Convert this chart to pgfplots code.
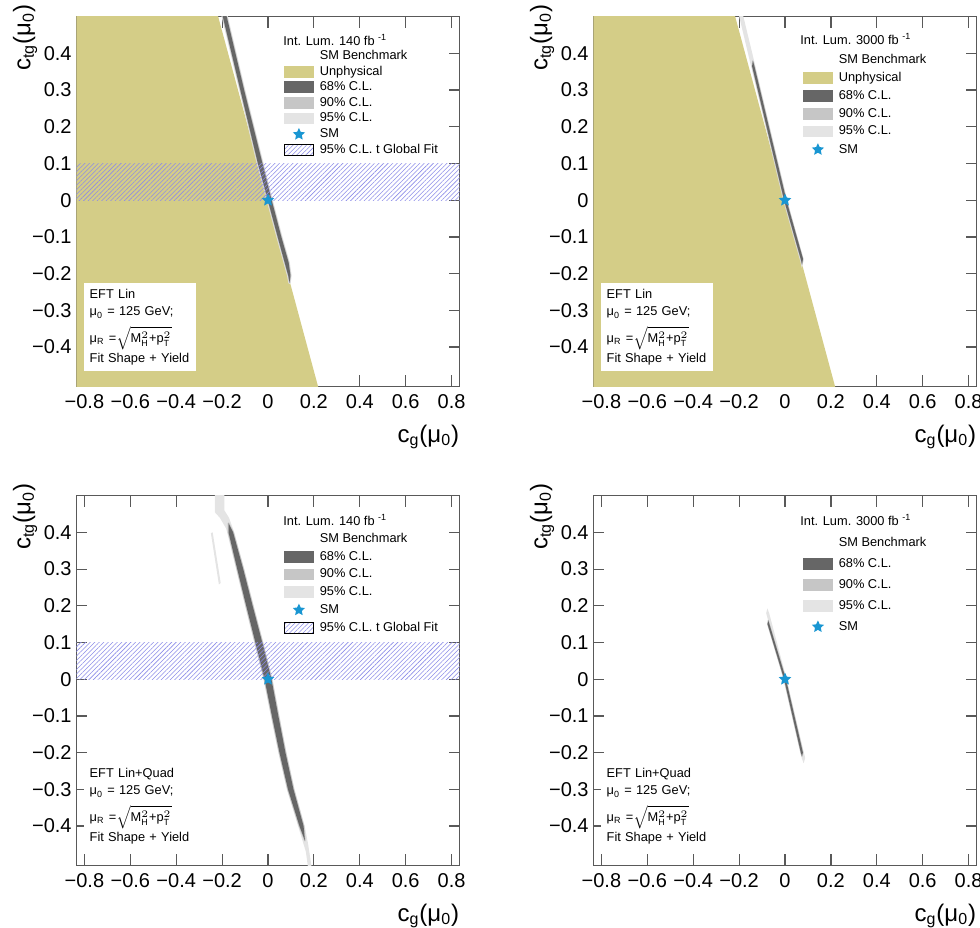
\documentclass[border=0pt]{standalone}
\usepackage{fontspec}
\setmainfont{Liberation Sans}
\usepackage{amsmath}
\usepackage{pgfplots}
\pgfplotsset{compat=1.18}
\usepackage{pgfplotstable}
\usetikzlibrary{patterns.meta}

\definecolor{olivefill}{RGB}{212,205,135}
\definecolor{cl68}{RGB}{102,102,102}
\definecolor{cl90}{RGB}{198,198,198}
\definecolor{cl95}{RGB}{228,228,228}
\definecolor{smblue}{RGB}{25,150,210}
\definecolor{hatchblue}{RGB}{140,140,232}

\tikzset{hatchfill/.style={pattern={Lines[angle=45,distance=1.6pt,line width=0.28pt]}, pattern color=hatchblue}}

\pgfdeclareplotmark{fstar}{%
  \pgfpathmoveto{\pgfpointpolar{90}{\pgfplotmarksize}}%
  \pgfpathlineto{\pgfpointpolar{126}{0.48\pgfplotmarksize}}%
  \pgfpathlineto{\pgfpointpolar{162}{\pgfplotmarksize}}%
  \pgfpathlineto{\pgfpointpolar{198}{0.48\pgfplotmarksize}}%
  \pgfpathlineto{\pgfpointpolar{234}{\pgfplotmarksize}}%
  \pgfpathlineto{\pgfpointpolar{270}{0.48\pgfplotmarksize}}%
  \pgfpathlineto{\pgfpointpolar{306}{\pgfplotmarksize}}%
  \pgfpathlineto{\pgfpointpolar{342}{0.48\pgfplotmarksize}}%
  \pgfpathlineto{\pgfpointpolar{18}{\pgfplotmarksize}}%
  \pgfpathlineto{\pgfpointpolar{54}{0.48\pgfplotmarksize}}%
  \pgfpathclose\pgfusepathqfill}

\newcommand{\legfont}{\fontsize{6.4}{7.7}\selectfont}
\newcommand{\boxleg}[1]{\addlegendimage{legend image code/.code={\fill[#1] (0pt,-2.7pt) rectangle (14.5pt,2.7pt);}}}
\newcommand{\starleg}{\addlegendimage{legend image code/.code={\draw[smblue,fill=smblue] plot[mark=fstar, mark size=3.2pt, only marks] coordinates {(7.25pt,0pt)};}}}

\pgfplotsset{
  rootax/.style={
    scale only axis, width=191.6pt, height=184.8pt,
    xmin=-0.835, xmax=0.835, ymin=-0.507, ymax=0.5,
    xtick={-0.8,-0.6,-0.4,-0.2,0,0.2,0.4,0.6,0.8},
    xticklabels={−0.8,−0.6,−0.4,−0.2,0,0.2,0.4,0.6,0.8},
    ytick={-0.4,-0.3,-0.2,-0.1,0,0.1,0.2,0.3,0.4},
    yticklabels={−0.4,−0.3,−0.2,−0.1,0,0.1,0.2,0.3,0.4},
    minor tick num=0,
    tick align=inside, tick pos=both,
    major tick length=5.5pt,
    every tick/.style={black!65, line width=0.6pt},
    axis line style={black!65, line width=0.6pt},
    tick label style={font=\fontsize{10}{12}\selectfont, inner sep=0pt},
    xticklabel style={anchor=center, yshift=-7.85pt},
    yticklabel style={anchor=east, xshift=-2.2pt},
    xlabel={c\textsubscript{g}(μ\textsubscript{0})},
    ylabel={c\textsubscript{tg}(μ\textsubscript{0})},
    label style={font=\fontsize{12}{14}\selectfont, inner sep=0pt},
    xlabel style={at={(axis description cs:1,-0.1366)}, anchor=east},
    ylabel style={at={(axis description cs:-0.134,1.033)}, anchor=east},
    legend style={draw=none, fill=none, inner sep=0pt, outer sep=0pt,
      anchor=north west, font=\legfont, column sep=3pt,
      nodes={inner sep=0pt, text height=4.7pt, text depth=1.3pt}},
    legend cell align=left,
  },
  band95/.style={fill=cl95, draw=cl95, line width=1.2pt, line join=round, forget plot},
  band90/.style={fill=cl90, draw=cl90, line width=0.6pt, line join=round, forget plot},
  band68/.style={fill=cl68, draw=none, forget plot},
  smstar/.style={only marks, mark=fstar, mark size=3.3pt, color=smblue, fill=smblue, forget plot},
}

% olive unphysical region (edge x = -0.001 - 0.432 y)
\pgfplotstableread{
x y
-0.9 0.52
-0.2256 0.52
0.2236 -0.52
-0.9 -0.52
}\unphys

\pgfplotstableread{
x y
-0.9 0
0.9 0
0.9 0.1
-0.9 0.1
}\globalfit

% Lin, 140 fb-1: 68% band
\pgfplotstableread{
x y
-0.2045 0.52
-0.1205 0.3
-0.044 0.1
-0.001 0.0
0.042 -0.1
0.077 -0.18
0.088 -0.205
0.094 -0.225
0.098 -0.205
0.090 -0.17
0.058 -0.1
0.016 0.0
-0.024 0.1
-0.104 0.3
-0.1875 0.52
}\bandTL

% Lin, 3000 fb-1
\pgfplotstableread{
x y
-0.207 0.52
-0.148 0.365
-0.008 0.0
0.066 -0.165
0.0735 -0.185
0.081 -0.165
0.010 0.0
-0.129 0.365
-0.189 0.52
}\bandTRa
\pgfplotstableread{
x y
-0.140 0.38
-0.1434 0.365
-0.004 0.0
0.0685 -0.16
0.074 -0.175
0.0785 -0.16
0.006 0.0
-0.1334 0.365
}\bandTRb

% Lin+Quad, 140 fb-1
\pgfplotstableread{
x y
-0.232 0.52
-0.232 0.455
-0.21 0.44
-0.182 0.41
-0.139 0.3
-0.100 0.2
-0.060 0.1
-0.020 0.0
0.012 -0.1
0.045 -0.2
0.082 -0.3
0.131 -0.4
0.165 -0.47
0.176 -0.52
0.192 -0.52
0.175 -0.45
0.160 -0.4
0.116 -0.3
0.081 -0.2
0.050 -0.1
0.020 0.0
-0.020 0.1
-0.062 0.2
-0.103 0.3
-0.147 0.4
-0.17 0.44
-0.19 0.46
-0.19 0.52
}\bandBLa
\pgfplotstableread{
x y
-0.172 0.425
-0.172 0.4
-0.134 0.3
-0.095 0.2
-0.055 0.1
-0.015 0.0
0.017 -0.1
0.050 -0.2
0.087 -0.3
0.137 -0.4
0.161 -0.44
0.155 -0.4
0.111 -0.3
0.076 -0.2
0.045 -0.1
0.015 0.0
-0.025 0.1
-0.067 0.2
-0.108 0.3
-0.152 0.4
}\bandBLb
\pgfplotstableread{
x y
-0.249 0.398
-0.214 0.258
-0.206 0.262
-0.241 0.400
}\sliverBL

% Lin+Quad, 3000 fb-1
\pgfplotstableread{
x y
-0.077 0.193
-0.082 0.18
-0.007 0.0
0.073 -0.215
0.081 -0.229
0.088 -0.215
0.007 0.0
-0.069 0.18
}\bandBRa
\pgfplotstableread{
x y
-0.073 0.16
-0.076 0.15
-0.004 0.0
0.069 -0.2
0.074 -0.21
0.078 -0.2
0.004 0.0
-0.068 0.15
}\bandBRb

\newcommand{\infobox}[1]{%
  \node[anchor=north west, fill=white, inner xsep=3pt, inner ysep=3pt, text width=50.3pt, align=left, font=\legfont] at (axis description cs:0.018,0.28)
  {#1\\[1pt] μ\textsubscript{0} = 125 GeV;\\[3pt] μ\textsubscript{R} =$\sqrt{\text{M}^2_\text{H}\text{+p}^2_\text{T}}$\\[0.4pt] Fit Shape + Yield};}

\begin{document}
\begin{tikzpicture}
\useasboundingbox (0pt,0pt) rectangle (490pt,463.5pt);
\clip (0pt,0pt) rectangle (490pt,463.5pt);

% ---------------- top left ----------------
\begin{axis}[rootax, at={(38.2pt,270.35pt)}, anchor=south west,
  legend style={at={(axis description cs:0.5418,0.9094)}, row sep=1.78pt}]
\addplot[fill=olivefill, draw=none, forget plot] table {\unphys} -- cycle;
\addplot[band95] table {\bandTL} -- cycle;
\addplot[band90] table {\bandTL} -- cycle;
\addplot[band68] table {\bandTL} -- cycle;
\addplot[hatchfill, draw=none, forget plot] table {\globalfit} -- cycle;
\addplot[smstar] coordinates {(0,0)};
\node[anchor=base west, inner sep=0pt, font=\legfont] at (axis description cs:0.539,0.9226) {Int. Lum. 140 fb \textsuperscript{-1}};
\infobox{EFT Lin}
\addlegendimage{empty legend}\addlegendentry{SM Benchmark}
\boxleg{olivefill}\addlegendentry{Unphysical}
\boxleg{cl68}\addlegendentry{68\% C.L.}
\boxleg{cl90}\addlegendentry{90\% C.L.}
\boxleg{cl95}\addlegendentry{95\% C.L.}
\starleg\addlegendentry{SM}
\boxleg{hatchfill}\addlegendentry{95\% C.L. t Global Fit}
\end{axis}

% ---------------- top right ----------------
\begin{axis}[rootax, at={(296.7pt,270.35pt)}, anchor=south west,
  legend style={at={(axis description cs:0.547,0.8985)}, row sep=2.9pt}]
\addplot[fill=olivefill, draw=none, forget plot] table {\unphys} -- cycle;
\addplot[fill=cl95, draw=none, forget plot] table {\bandTRa} -- cycle;
\addplot[band90, line width=0.5pt] table {\bandTRb} -- cycle;
\addplot[band68] table {\bandTRb} -- cycle;
\addplot[smstar] coordinates {(0,0)};
\node[anchor=base west, inner sep=0pt, font=\legfont] at (axis description cs:0.539,0.924) {Int. Lum. 3000 fb \textsuperscript{-1}};
\infobox{EFT Lin}
\addlegendimage{empty legend}\addlegendentry{SM Benchmark}
\boxleg{olivefill}\addlegendentry{Unphysical}
\boxleg{cl68}\addlegendentry{68\% C.L.}
\boxleg{cl90}\addlegendentry{90\% C.L.}
\boxleg{cl95}\addlegendentry{95\% C.L.}
\starleg\addlegendentry{SM}
\end{axis}

% ---------------- bottom left ----------------
\begin{axis}[rootax, at={(38.2pt,30.85pt)}, anchor=south west,
  legend style={at={(axis description cs:0.5418,0.8985)}, row sep=2.8pt}]
\addplot[fill=cl95, draw=none, forget plot] table {\bandBLa} -- cycle;
\addplot[fill=cl95, draw=none, forget plot] table {\sliverBL} -- cycle;
\addplot[band90, line width=0.8pt] table {\bandBLb} -- cycle;
\addplot[band68] table {\bandBLb} -- cycle;
\addplot[hatchfill, draw=none, forget plot] table {\globalfit} -- cycle;
\addplot[smstar] coordinates {(0,0)};
\node[anchor=base west, inner sep=0pt, font=\legfont] at (axis description cs:0.539,0.92) {Int. Lum. 140 fb \textsuperscript{-1}};
\infobox{EFT Lin+Quad}
\addlegendimage{empty legend}\addlegendentry{SM Benchmark}
\boxleg{cl68}\addlegendentry{68\% C.L.}
\boxleg{cl90}\addlegendentry{90\% C.L.}
\boxleg{cl95}\addlegendentry{95\% C.L.}
\starleg\addlegendentry{SM}
\boxleg{hatchfill}\addlegendentry{95\% C.L. t Global Fit}
\end{axis}

% ---------------- bottom right ----------------
\begin{axis}[rootax, at={(296.7pt,30.85pt)}, anchor=south west,
  legend style={at={(axis description cs:0.547,0.8877)}, row sep=4.4pt}]
\addplot[fill=cl95, draw=none, forget plot] table {\bandBRa} -- cycle;
\addplot[band90, line width=0.5pt] table {\bandBRb} -- cycle;
\addplot[band68] table {\bandBRb} -- cycle;
\addplot[smstar] coordinates {(0,0)};
\node[anchor=base west, inner sep=0pt, font=\legfont] at (axis description cs:0.539,0.919) {Int. Lum. 3000 fb \textsuperscript{-1}};
\infobox{EFT Lin+Quad}
\addlegendimage{empty legend}\addlegendentry{SM Benchmark}
\boxleg{cl68}\addlegendentry{68\% C.L.}
\boxleg{cl90}\addlegendentry{90\% C.L.}
\boxleg{cl95}\addlegendentry{95\% C.L.}
\starleg\addlegendentry{SM}
\end{axis}
\end{tikzpicture}
\end{document}
